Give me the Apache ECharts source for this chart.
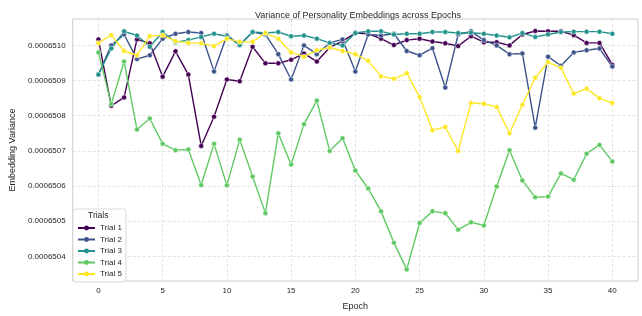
<!DOCTYPE html>
<html lang="en">
<head>
<meta charset="utf-8">
<title>Variance of Personality Embeddings across Epochs</title>
<script src="https://cdn.jsdelivr.net/npm/echarts@6/dist/echarts.min.js"></script>
<style>html,body{margin:0;padding:0;background:#fff}</style>
</head>
<body>
<div id="main" style="width:642px;height:316px"></div>
<script>
var epochs = [0, 1, 2, 3, 4, 5, 6, 7, 8, 9, 10, 11, 12, 13, 14, 15, 16, 17, 18, 19, 20,
              21, 22, 23, 24, 25, 26, 27, 28, 29, 30, 31, 32, 33, 34, 35, 36, 37, 38, 39, 40];

var trial1 = [0.000651017, 0.000650828, 0.000650852, 0.000651017, 0.000651006, 0.000650911, 0.000650983,
  0.000650917, 0.000650714, 0.000650797, 0.000650903, 0.000650898, 0.000650996, 0.000650949, 0.000650949,
  0.000650959, 0.000650977, 0.000650954, 0.000650994, 0.000651012, 0.000651035, 0.000651033, 0.000651019,
  0.000651001, 0.000651015, 0.000651019, 0.000651011, 0.000651006, 0.000650998, 0.000651026, 0.000651009,
  0.000651009, 0.000651000, 0.000651031, 0.000651041, 0.000651040, 0.000651040, 0.000651029, 0.000651007,
  0.000651007, 0.000650945];
var trial2 = [0.000650917, 0.000651000, 0.000651031, 0.000650961, 0.000650972, 0.000651019, 0.000651033,
  0.000651038, 0.000651035, 0.000650926, 0.000651029, 0.000651001, 0.000651038, 0.000651031, 0.000650975,
  0.000650903, 0.000651000, 0.000650975, 0.000651007, 0.000651017, 0.000650926, 0.000651031, 0.000651028,
  0.000651033, 0.000650984, 0.000650972, 0.000650992, 0.000650880, 0.000651031, 0.000651040, 0.000651015,
  0.000651000, 0.000650975, 0.000650977, 0.000650766, 0.000650968, 0.000650942, 0.000650980, 0.000650986,
  0.000650991, 0.000650940];
var trial3 = [0.000650917, 0.000650991, 0.000651040, 0.000651028, 0.000650996, 0.000651038, 0.000651009,
  0.000651015, 0.000651024, 0.000651033, 0.000651026, 0.000651001, 0.000651038, 0.000651035, 0.000651038,
  0.000651026, 0.000651028, 0.000651019, 0.000651007, 0.000651000, 0.000651035, 0.000651040, 0.000651040,
  0.000651031, 0.000651033, 0.000651033, 0.000651038, 0.000651038, 0.000651035, 0.000651036, 0.000651033,
  0.000651028, 0.000651023, 0.000651035, 0.000651024, 0.000651031, 0.000651038, 0.000651039, 0.000651039,
  0.000651039, 0.000651033];
var trial4 = [0.000650980, 0.000650833, 0.000650954, 0.000650761, 0.000650792, 0.000650720, 0.000650702,
  0.000650704, 0.000650603, 0.000650720, 0.000650602, 0.000650732, 0.000650627, 0.000650523, 0.000650750,
  0.000650661, 0.000650776, 0.000650843, 0.000650700, 0.000650736, 0.000650644, 0.000650593, 0.000650528,
  0.000650439, 0.000650363, 0.000650495, 0.000650528, 0.000650523, 0.000650476, 0.000650497, 0.000650488,
  0.000650599, 0.000650702, 0.000650616, 0.000650568, 0.000650570, 0.000650636, 0.000650618, 0.000650692,
  0.000650717, 0.000650670];
var trial5 = [0.000651007, 0.000651029, 0.000650984, 0.000650972, 0.000651026, 0.000651029, 0.000651012,
  0.000651007, 0.000651006, 0.000650998, 0.000651019, 0.000651010, 0.000651010, 0.000651035, 0.000651019,
  0.000650980, 0.000650968, 0.000650986, 0.000650994, 0.000650984, 0.000650975, 0.000650956, 0.000650912,
  0.000650905, 0.000650921, 0.000650853, 0.000650759, 0.000650768, 0.000650700, 0.000650836, 0.000650834,
  0.000650825, 0.000650750, 0.000650831, 0.000650908, 0.000650952, 0.000650936, 0.000650863, 0.000650877,
  0.000650850, 0.000650836];

var trialNames = ['Trial 1', 'Trial 2', 'Trial 3', 'Trial 4', 'Trial 5'];
var xTicks = [0, 5, 10, 15, 20, 25, 30, 35, 40];
var yTicks = [0.0006504, 0.0006505, 0.0006506, 0.0006507, 0.0006508, 0.0006509, 0.0006510];

var colors = ['#440154', '#3b528b', '#21918c', '#5ec962', '#fde725'];
var font = 'Liberation Sans, Arial, sans-serif';

var myChart = echarts.init(document.getElementById('main'));

var allTrials = [trial1, trial2, trial3, trial4, trial5];
var series = allTrials.map(function (vals, k) {
    return {
        name: trialNames[k],
        type: 'line',
        data: epochs.map(function (e, i) { return [e, vals[i]]; }),
        symbol: 'circle',
        symbolSize: 5,
        showAllSymbol: true,
        lineStyle: { width: 1.4, color: colors[k] },
        itemStyle: { color: colors[k], borderColor: '#fff', borderWidth: 0.5 },
        emphasis: { disabled: true },
        animation: false
    };
});

var gridLine = { show: true, lineStyle: { color: '#dcdcdc', width: 0.8, type: [3, 2] } };

var option = {
    backgroundColor: '#fff',
    animation: false,
    color: colors,
    title: {
        text: 'Variance of Personality Embeddings across Epochs',
        left: 353, top: 6, textAlign: 'center',
        textStyle: { fontFamily: font, fontSize: 9, fontWeight: 'normal', color: '#262626' }
    },
    grid: { left: 69, right: 4, top: 19, bottom: 30, show: true, borderColor: '#cccccc', borderWidth: 1 },
    legend: {
        data: trialNames,
        orient: 'vertical',
        left: 73, top: 209,
        padding: [15, 4, 4, 4],
        itemWidth: 17, itemHeight: 6, itemGap: 3.5,
        itemStyle: { borderWidth: 0 },
        backgroundColor: 'rgba(255,255,255,0.85)',
        borderColor: '#d9d9d9', borderWidth: 1, borderRadius: 3,
        textStyle: { fontFamily: font, fontSize: 8, color: '#262626' }
    },
    graphic: [{
        type: 'text', left: 88, top: 211, z: 100,
        style: { text: 'Trials', font: '8.5px ' + font, fill: '#262626' }
    }],
    xAxis: {
        type: 'value', min: -2, max: 42,
        name: 'Epoch', nameLocation: 'middle', nameGap: 21,
        nameTextStyle: { fontFamily: font, fontSize: 9, color: '#262626' },
        axisLine: { show: false },
        axisTick: { show: false, customValues: xTicks },
        axisLabel: { customValues: xTicks, fontFamily: font, fontSize: 8, color: '#262626', margin: 6 },
        splitLine: gridLine
    },
    yAxis: {
        type: 'value', min: 0.00065033, max: 0.000651075,
        name: 'Embedding Variance', nameLocation: 'middle', nameGap: 54,
        nameTextStyle: { fontFamily: font, fontSize: 9, color: '#262626' },
        axisLine: { show: false },
        axisTick: { show: false, customValues: yTicks },
        axisLabel: {
            customValues: yTicks, fontFamily: font, fontSize: 8, color: '#262626', margin: 7,
            formatter: function (v) { return v.toFixed(7); }
        },
        splitLine: gridLine
    },
    series: series
};

option && myChart.setOption(option);
</script>
</body>
</html>
